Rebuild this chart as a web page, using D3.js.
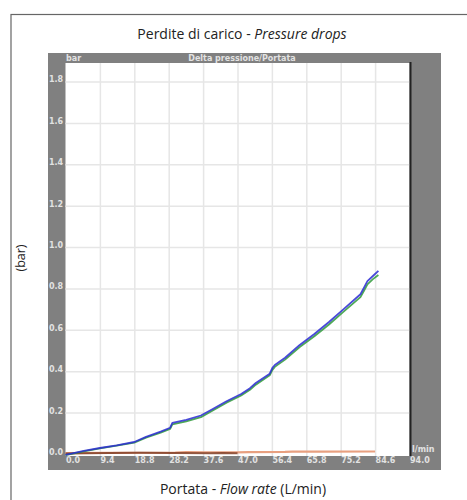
<!DOCTYPE html>
<html>
<head>
<meta charset="utf-8">
<script src="https://cdn.jsdelivr.net/npm/d3@7"></script>
<style>
  body { margin: 0; background: #fff; }
  svg { display: block; }
  .tk text { font-family: "DejaVu Sans", sans-serif; font-weight: bold; font-size: 8px; fill: #e2e2e2; }
  .grid line { stroke: #e6e6e6; stroke-width: 1.5; }
  .grid path { display: none; }
</style>
</head>
<body>
<div class="sandbox"></div>
<script>
// tick values
var xTicks = [0, 9.4, 18.8, 28.2, 37.6, 47.0, 56.4, 65.8, 75.2, 84.6, 94.0];
var yTicks = [0, 0.2, 0.4, 0.6, 0.8, 1.0, 1.2, 1.4, 1.6, 1.8];

// series: flow (L/min) -> pressure drop (bar)
var flowBlue = [0, 5, 9.4, 14, 18.8, 22, 26, 28.6, 29.2, 33, 37, 40, 44, 48, 50.4, 52, 55.8, 56.6, 57.2, 60, 64, 68, 72, 76, 80.6, 81.6, 82.5, 84, 85.5];
var presBlue = [-0.004, 0.015, 0.029, 0.042, 0.058, 0.083, 0.108, 0.127, 0.15, 0.165, 0.186, 0.215, 0.255, 0.29, 0.318, 0.343, 0.388, 0.418, 0.43, 0.465, 0.527, 0.58, 0.638, 0.7, 0.772, 0.805, 0.835, 0.86, 0.885];
var flowGreen = [0, 5, 9.4, 14, 18.8, 22, 26, 28.6, 29.2, 33, 37, 40, 44, 48, 50.4, 52, 55.8, 56.6, 57.2, 60, 64, 68, 72, 76, 80.6, 81.6, 82.5, 84, 85.5];
var presGreen = [-0.006, 0.013, 0.027, 0.04, 0.055, 0.079, 0.103, 0.121, 0.143, 0.158, 0.178, 0.208, 0.248, 0.283, 0.31, 0.335, 0.38, 0.408, 0.421, 0.456, 0.517, 0.569, 0.626, 0.688, 0.758, 0.79, 0.82, 0.845, 0.865];
var flowRed = [0, 10, 20, 30, 33, 38, 47, 50, 60, 62, 70, 84.6];
var presRed = [0.004, 0.005, 0.006, 0.007, 0.009, 0.008, 0.008, 0.009, 0.01, 0.011, 0.011, 0.012];
var flowDark = [0, 5, 12, 20, 39.5, 43, 47];
var presDark = [0.003, 0.004, 0.005, 0.006, 0.004, 0.005, 0.004];

var W = 467, H = 500;
var svg = d3.select(".sandbox").append("svg").attr("width", W).attr("height", H);

// outer frame
svg.append("rect").attr("x", 11).attr("y", 14.5).attr("width", 470).attr("height", 500)
  .attr("fill", "none").attr("stroke", "#666").attr("stroke-width", 1.2);

var title = svg.append("text").attr("x", 242).attr("y", 39)
  .attr("text-anchor", "middle")
  .style("font-family", "'Open Sans', sans-serif").style("font-size", "14px").style("fill", "#222");
title.append("tspan").text("Perdite di carico -  ");
title.append("tspan").style("font-style", "italic").text("Pressure drops");

var xt = svg.append("text").attr("x", 243).attr("y", 494)
  .attr("text-anchor", "middle")
  .style("font-family", "'Open Sans', sans-serif").style("font-size", "14px").style("fill", "#222");
xt.append("tspan").text("Portata - ");
xt.append("tspan").style("font-style", "italic").text("Flow rate");
xt.append("tspan").text(" (L/min)");

svg.append("text").attr("transform", "translate(25,258) rotate(-90)")
  .attr("text-anchor", "middle")
  .style("font-family", "'Open Sans', sans-serif").style("font-size", "12.5px").style("fill", "#222")
  .text("(bar)");

// grey instrument panel
svg.append("rect").attr("x", 48).attr("y", 53).attr("width", 393).attr("height", 417).attr("fill", "#808080");

var x = d3.scaleLinear().domain([0, 94]).range([65.5, 409.5]);
var y = d3.scaleLinear().domain([0, 1.8]).range([454, 81.5]);

svg.append("rect").attr("x", x(0)).attr("y", 63).attr("width", x(94) - x(0)).attr("height", 456 - 63).attr("fill", "#fff");

// grid
svg.append("g").attr("class", "grid")
  .attr("transform", "translate(0,456)")
  .call(d3.axisBottom(x).tickValues(xTicks.slice(1, -1)).tickSize(-(456 - 63)).tickFormat(""));
svg.append("g").attr("class", "grid")
  .attr("transform", "translate(" + x(0) + ",0)")
  .call(d3.axisLeft(y).tickValues(yTicks.slice(1)).tickSize(-(x(94) - x(0))).tickFormat(""));

// right edge shadow
svg.append("line").attr("x1", x(94) + 1).attr("x2", x(94) + 1).attr("y1", 62).attr("y2", 456)
  .attr("stroke", "#222").attr("stroke-width", 2);

// tick labels
var xa = svg.append("g").attr("class", "tk").attr("transform", "translate(0,456)")
  .call(d3.axisBottom(x).tickValues(xTicks).tickSize(0).tickFormat(d3.format(".1f")));
xa.select(".domain").remove();
xa.selectAll("text").attr("text-anchor", "start").attr("dy", "0.2em").attr("y", 5);

var ya = svg.append("g").attr("class", "tk").attr("transform", "translate(49,0)")
  .call(d3.axisLeft(y).tickValues(yTicks).tickSize(0).tickFormat(d3.format(".1f")));
ya.select(".domain").remove();
ya.selectAll("text").attr("text-anchor", "start").attr("x", 0).attr("dy", "0.05em");

svg.append("text").attr("class", "tk").attr("x", 66).attr("y", 60.5)
  .style("font-family", "'DejaVu Sans', sans-serif").style("font-weight", "bold").style("font-size", "8px").style("fill", "#e2e2e2")
  .text("bar");
svg.append("text").attr("x", 242).attr("y", 60.5).attr("text-anchor", "middle")
  .style("font-family", "'DejaVu Sans', sans-serif").style("font-weight", "bold").style("font-size", "8px").style("fill", "#e2e2e2")
  .text("Delta pressione/Portata");
svg.append("text").attr("x", 412).attr("y", 452)
  .style("font-family", "'DejaVu Sans', sans-serif").style("font-weight", "bold").style("font-size", "8px").style("fill", "#e2e2e2")
  .text("l/min");

// curves
var line = d3.line().x(d => x(d[0])).y(d => y(d[1]));
function series(qs, ps, color, wd, op) {
  svg.append("path").datum(d3.zip(qs, ps))
    .attr("d", line).attr("fill", "none")
    .attr("stroke", color).attr("stroke-width", wd).attr("stroke-opacity", op)
    .attr("stroke-linejoin", "round");
}
series(flowRed, presRed, "#e8a080", 2.2, 1);
series(flowDark, presDark, "#7a3a22", 2, 0.8);
series(flowGreen, presGreen, "#2f9a3a", 1.8, 0.85);
series(flowBlue, presBlue, "#2a2ad2", 1.8, 0.85);
</script>
</body>
</html>
